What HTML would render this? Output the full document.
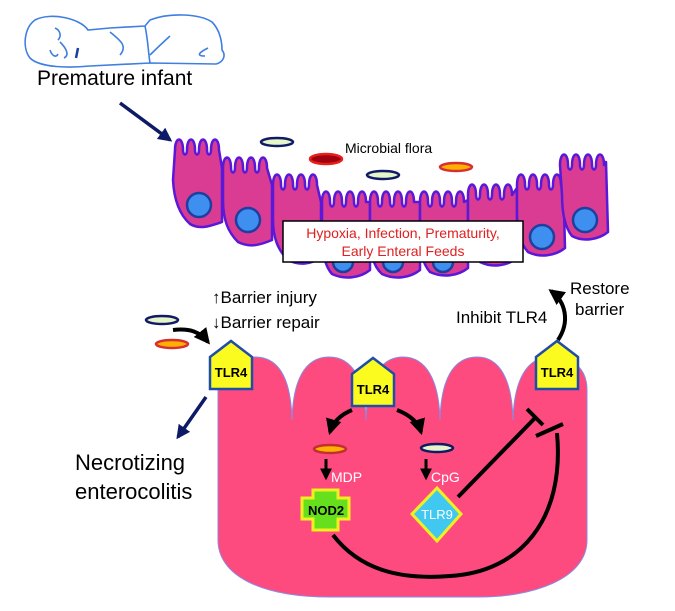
<!DOCTYPE html>
<html><head><meta charset="utf-8"><style>
html,body{margin:0;padding:0;background:#fff;}
svg{display:block;font-family:"Liberation Sans",Arial,sans-serif;}
</style></head><body>
<svg width="675" height="611" viewBox="0 0 675 611" xmlns="http://www.w3.org/2000/svg">
<defs>
<marker id="ab" viewBox="0 0 10 10" refX="8" refY="5" markerWidth="4" markerHeight="4" orient="auto"><path d="M0,0 L10,5 L0,10 z" fill="#000"/></marker>
<marker id="an" viewBox="0 0 10 10" refX="8" refY="5" markerWidth="4" markerHeight="4" orient="auto"><path d="M0,0 L10,5 L0,10 z" fill="#0d1a66"/></marker>
</defs>
<!-- baby -->
<g fill="none" stroke="#3f7fe0" stroke-width="1.6">
<path d="M35,20 C50,12 80,18 88,30 L110,28 L145,26 L150,20 C170,12 200,14 212,22 C220,30 222,42 222,50 C226,55 224,62 216,64 L150,63 L90,66 C70,68 40,68 30,58 C22,48 24,28 35,20 Z"/>
<path d="M55,28 C60,30 62,36 58,40"/><path d="M60,42 C66,48 70,55 64,58"/><path d="M78,48 L76,58" stroke="#1a3fa0" stroke-width="2.5"/>
<path d="M110,32 C120,40 128,46 120,55"/><path d="M145,26 C148,40 148,50 150,63"/><path d="M170,36 C160,45 155,50 150,55"/><path d="M208,48 C200,52 195,56 205,56"/>
<path d="M50,50 C52,56 56,58 58,54"/>
</g>
<text x="37" y="85" font-size="21">Premature infant</text>
<line x1="120" y1="103" x2="170" y2="140" stroke="#0d1a66" stroke-width="3.5" marker-end="url(#an)"/>
<!-- microbes top -->
<ellipse cx="277" cy="142" rx="16" ry="4" fill="#e6f6c8" stroke="#111a66" stroke-width="2.5"/>
<ellipse cx="326" cy="159" rx="16" ry="5" fill="#a00010" stroke="#e8201c" stroke-width="2.5"/>
<ellipse cx="383" cy="175" rx="16" ry="4" fill="#e6f6c8" stroke="#111a66" stroke-width="2.5"/>
<ellipse cx="456" cy="167" rx="16" ry="4" fill="#ffb000" stroke="#d83030" stroke-width="2.5"/>
<text x="345" y="153" font-size="14">Microbial flora</text>
<!-- epithelial cells -->
<g fill="#d93c92" stroke="#5a18d8" stroke-width="2.5" stroke-linejoin="round">
<path d="M175,150 c0,-14 8,-14 8,0 c0,6 4,6 4,0 c0,-14 8,-14 8,0 c0,6 4,6 4,0 c0,-14 8,-14 8,0 c0,6 4,6 4,0 c0,-14 8,-14 8,0 L222,168 L222,222 C210,226 200,230 190,224 C180,215 174,200 173,180 Z"/>
<path d="M223,168 c0,-14 8,-14 8,0 c0,6 4,6 4,0 c0,-14 8,-14 8,0 c0,6 4,6 4,0 c0,-14 8,-14 8,0 c0,6 4,6 4,0 c0,-14 8,-14 8,0 L272,185 L272,240 C260,245 250,248 238,242 C228,232 223,220 223,200 Z"/>
<path d="M273,185 c0,-14 8,-14 8,0 c0,6 4,6 4,0 c0,-14 8,-14 8,0 c0,6 4,6 4,0 c0,-14 8,-14 8,0 c0,6 4,6 4,0 c0,-14 8,-14 8,0 L321,202 L321,258 C310,264 300,266 288,260 C278,250 273,238 273,220 Z"/>
<path d="M322,202 c0,-14 8,-14 8,0 c0,6 4,6 4,0 c0,-14 8,-14 8,0 c0,6 4,6 4,0 c0,-14 8,-14 8,0 c0,6 4,6 4,0 c0,-14 8,-14 8,0 L370,202 L370,270 C360,278 345,280 332,274 C324,265 322,250 322,235 Z"/>
<path d="M370,202 c0,-14 8,-14 8,0 c0,6 4,6 4,0 c0,-14 8,-14 8,0 c0,6 4,6 4,0 c0,-14 8,-14 8,0 c0,6 4,6 4,0 c0,-14 8,-14 8,0 L420,202 L420,270 C410,278 395,280 382,274 C372,265 370,250 370,235 Z"/>
<path d="M420,202 c0,-14 8,-14 8,0 c0,6 4,6 4,0 c0,-14 8,-14 8,0 c0,6 4,6 4,0 c0,-14 8,-14 8,0 c0,6 4,6 4,0 c0,-14 8,-14 8,0 L468,200 L468,268 C458,276 443,278 430,272 C422,263 420,250 420,235 Z"/>
<path d="M468,195 c0,-14 8,-14 8,0 c0,6 4,6 4,0 c0,-14 8,-14 8,0 c0,6 4,6 4,0 c0,-14 8,-14 8,0 c0,6 4,6 4,0 c0,-14 8,-14 8,0 L517,188 L517,258 C507,266 492,268 480,262 C470,252 468,240 468,225 Z"/>
<path d="M517,185 c0,-14 8,-14 8,0 c0,6 4,6 4,0 c0,-14 8,-14 8,0 c0,6 4,6 4,0 c0,-14 8,-14 8,0 c0,6 4,6 4,0 c0,-14 8,-14 8,0 L563,172 L565,248 C555,256 540,258 528,252 C519,242 517,228 517,212 Z"/>
<path d="M560,165 c0,-14 8,-14 8,0 c0,6 4,6 4,0 c0,-14 8,-14 8,0 c0,6 4,6 4,0 c0,-14 8,-14 8,0 c0,6 4,6 4,0 c0,-14 8,-14 8,0 L606,162 L608,232 C598,240 583,242 572,236 C564,226 562,210 562,195 Z"/>
</g>
<g fill="#3f8ff0" stroke="#1d3fa0" stroke-width="2.5">
<circle cx="199" cy="205" r="12"/><circle cx="248" cy="220" r="12"/><circle cx="298" cy="240" r="12"/>
<circle cx="343" cy="262" r="10"/><circle cx="393" cy="262" r="10"/><circle cx="443" cy="262" r="10"/>
<circle cx="542" cy="237" r="12"/><circle cx="585" cy="220" r="12"/>
</g>
<rect x="283" y="221" width="240" height="41" fill="#fff" stroke="#000" stroke-width="1.5"/>
<text x="403" y="238" font-size="14" fill="#e02020" text-anchor="middle">Hypoxia, Infection, Prematurity,</text>
<text x="403" y="256" font-size="14" fill="#e02020" text-anchor="middle">Early Enteral Feeds</text>
<!-- big pink villus -->
<path d="M218,540 L218,390 C218,365 230,357 255,357 C280,357 291,380 292,420
C293,380 305,357 329,357 C353,357 365,380 366,420
C367,380 380,357 403,357 C426,357 439,380 440,420
C441,380 453,357 477,357 C500,357 512,380 513,420
C514,380 527,357 550,357 C575,357 587,370 587,390 L587,540 C587,580 530,597 480,597 L330,597 C260,597 218,575 218,540 Z" fill="#fd4b80" stroke="#8a8ae0" stroke-width="1"/>
<!-- left side -->
<text x="212" y="303" font-size="17">↑Barrier injury</text>
<text x="212" y="328" font-size="17">↓Barrier repair</text>
<ellipse cx="162" cy="320" rx="16" ry="4" fill="#e6f6c8" stroke="#111a66" stroke-width="2.5"/>
<ellipse cx="172" cy="344" rx="16" ry="4" fill="#ffb000" stroke="#d83030" stroke-width="2.5"/>
<path d="M173,330 C190,328 200,332 208,342" fill="none" stroke="#000" stroke-width="4" marker-end="url(#ab)"/>
<line x1="206" y1="397" x2="178" y2="437" stroke="#0d1a66" stroke-width="3.5" marker-end="url(#an)"/>
<text x="75" y="470" font-size="22">Necrotizing</text>
<text x="75" y="499" font-size="22">enterocolitis</text>
<!-- right side -->
<text x="456" y="323" font-size="17">Inhibit TLR4</text>
<text x="570" y="294" font-size="17">Restore</text>
<text x="575" y="315" font-size="17">barrier</text>
<path d="M558,340 C570,322 566,302 551,291" fill="none" stroke="#000" stroke-width="4" marker-end="url(#ab)"/>
<!-- TLR4s -->
<g fill="#fbfb1f" stroke="#1f4ea8" stroke-width="2.5">
<path d="M210,357 L231,341 L252,357 L252,389 L210,389 Z"/>
<path d="M352,374 L373,358 L394,374 L394,406 L352,406 Z"/>
<path d="M536,357 L557,341 L578,357 L578,389 L536,389 Z"/>
</g>
<g font-size="13" font-weight="bold" text-anchor="middle">
<text x="231" y="377">TLR4</text><text x="373" y="394">TLR4</text><text x="557" y="377">TLR4</text>
</g>
<!-- inner arrows -->
<path d="M352,410 C340,415 333,422 330,432" fill="none" stroke="#000" stroke-width="4" marker-end="url(#ab)"/>
<path d="M397,410 C410,415 418,422 421,432" fill="none" stroke="#000" stroke-width="4" marker-end="url(#ab)"/>
<ellipse cx="330" cy="449" rx="16" ry="4" fill="#ffb000" stroke="#c03030" stroke-width="2.5"/>
<ellipse cx="437" cy="448" rx="16" ry="4" fill="#e6f6c8" stroke="#111a66" stroke-width="2.5"/>
<line x1="326" y1="459" x2="326" y2="478" stroke="#000" stroke-width="3" marker-end="url(#ab)"/>
<line x1="426" y1="459" x2="426" y2="478" stroke="#000" stroke-width="3" marker-end="url(#ab)"/>
<text x="331" y="482" font-size="14" fill="#fff">MDP</text>
<text x="431" y="482" font-size="14" fill="#fff">CpG</text>
<path d="M313,490 L338,490 L338,498 L349,498 L349,519 L338,519 L338,530 L313,530 L313,519 L302,519 L302,498 L313,498 Z" fill="#66e01c" stroke="#f0f020" stroke-width="3"/>
<text x="326" y="515" font-size="13" font-weight="bold" text-anchor="middle">NOD2</text>
<path d="M437,488 L461,514 L437,541 L412,514 Z" fill="#40c8f0" stroke="#f0f020" stroke-width="3"/>
<text x="437" y="519" font-size="13" fill="#fff" text-anchor="middle">TLR9</text>
<!-- inhibition -->
<g stroke="#000" stroke-width="4" fill="none">
<line x1="458" y1="497" x2="535" y2="418"/><line x1="527" y1="409" x2="543" y2="425"/>
<path d="M333,535 C360,570 400,580 450,576 C520,572 565,520 557,433"/><line x1="536" y1="436" x2="563" y2="424"/>
</g>
</svg>
</body></html>
